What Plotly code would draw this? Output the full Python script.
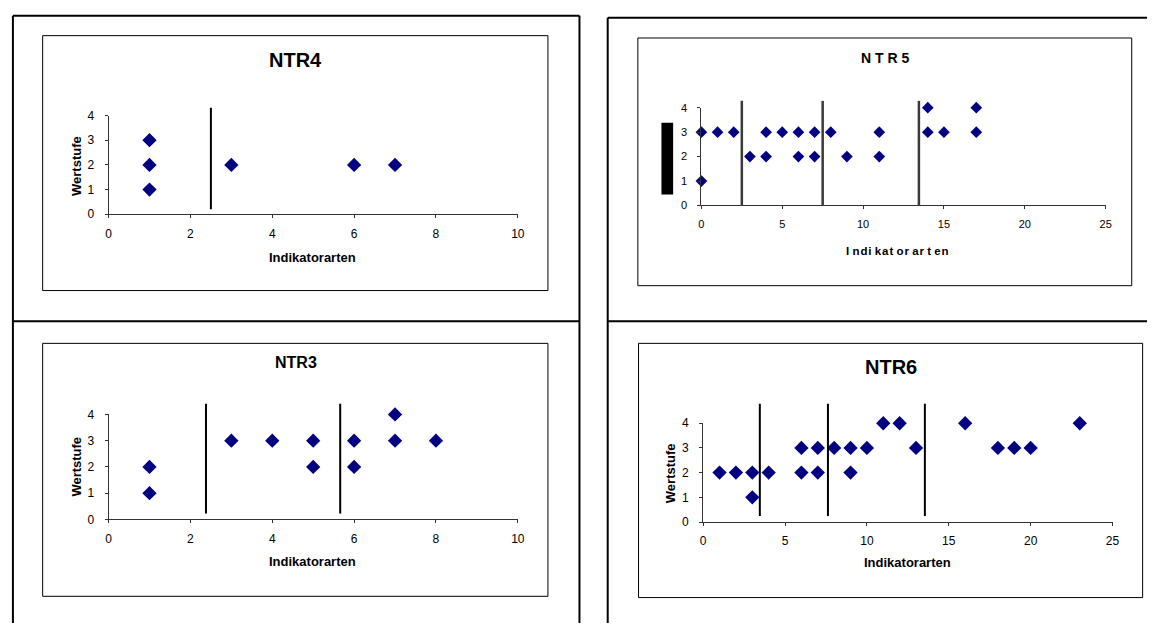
import plotly.graph_objects as go

W, H = 1154, 630

# ---------------- data ----------------
ntr4_x = [1, 1, 1, 3, 6, 7]
ntr4_y = [3, 2, 1, 2, 2, 2]
ntr4_lines = [2.5]

ntr5_x = [0, 0, 1, 2, 3, 4, 4, 5, 6, 6, 7, 7, 8, 9, 11, 11, 14, 14, 15, 17, 17]
ntr5_y = [3, 1, 3, 3, 2, 3, 2, 3, 3, 2, 3, 2, 3, 2, 3, 2, 4, 3, 3, 4, 3]
ntr5_lines = [2.5, 7.5, 13.45]

ntr3_x = [1, 1, 3, 4, 5, 5, 6, 6, 7, 7, 8]
ntr3_y = [2, 1, 3, 3, 3, 2, 3, 2, 4, 3, 3]
ntr3_lines = [2.38, 5.66]

ntr6_x = [1, 2, 3, 3, 4, 6, 6, 7, 7, 8, 9, 9, 10, 11, 12, 13, 16, 18, 19, 20, 23]
ntr6_y = [2, 2, 2, 1, 2, 3, 2, 3, 2, 3, 3, 2, 3, 4, 4, 3, 4, 3, 3, 3, 4]
ntr6_lines = [3.46, 7.62, 13.54]

y_ticks = [0, 1, 2, 3, 4]
x_ticks_10 = [0, 2, 4, 6, 8, 10]
x_ticks_25 = [0, 5, 10, 15, 20, 25]

FONT = "Liberation Sans, Arial, sans-serif"
NAVY = "#000080"
HS = "\u200a"   # hair space (letter tracking)


def px(x):
    return x / W


def py(y):
    return 1 - y / H


# panel definitions: pixel plot area (left, right, top at y=4, bottom at y=0)
panels = [
    dict(name="NTR4", x=ntr4_x, y=ntr4_y, lines=ntr4_lines, line_lo=0.2, line_hi=4.32,
         area=(106.5, 519.3, 111, 212), xt=x_ticks_10, msize=11, tfs=12, lcol="black", lw=2),
    dict(name="NTR5", x=ntr5_x, y=ntr5_y, lines=ntr5_lines, line_lo=0.0, line_hi=4.28,
         area=(704.5, 1112.3, 103, 203), xt=x_ticks_25, msize=9, tfs=11, lcol="#3a3a3a", lw=2.5),
    dict(name="NTR3", x=ntr3_x, y=ntr3_y, lines=ntr3_lines, line_lo=0.22, line_hi=4.41,
         area=(106.5, 519.3, 416.7, 524), xt=x_ticks_10, msize=11, tfs=12, lcol="black", lw=2),
    dict(name="NTR6", x=ntr6_x, y=ntr6_y, lines=ntr6_lines, line_lo=0.24, line_hi=4.79,
         area=(706.3, 1119.2, 425.7, 526.7), xt=x_ticks_25, msize=11, tfs=12, lcol="black", lw=2),
]

fig = go.Figure()
shapes = []
annotations = []
layout = {}

for i, p in enumerate(panels, start=1):
    sfx = "" if i == 1 else str(i)
    xa, ya = "x" + sfx, "y" + sfx
    fig.add_trace(go.Scatter(
        x=p["x"], y=p["y"], mode="markers", xaxis=xa, yaxis=ya,
        marker=dict(symbol="diamond", size=p["msize"], color=NAVY, line=dict(width=0)),
        cliponaxis=False, showlegend=False, hoverinfo="x+y"))
    l, r, t, b = p["area"]
    axis_common = dict(showgrid=False, zeroline=False, showline=True, linecolor="#333333",
                       linewidth=1, ticks="outside", ticklen=3, tickcolor="#333333",
                       tickfont=dict(family=FONT, size=p["tfs"], color="black"),
                       fixedrange=True)
    layout["xaxis" + sfx] = dict(axis_common, domain=[px(l), px(r)], anchor=ya,
                                 range=[p["xt"][0], p["xt"][-1]], tickmode="array",
                                 tickvals=p["xt"], ticklabelstandoff=5)
    layout["yaxis" + sfx] = dict(axis_common, domain=[py(b), py(t)], anchor=xa,
                                 range=[y_ticks[0], y_ticks[-1]], tickmode="array",
                                 tickvals=y_ticks, ticklabelstandoff=8)
    ymax = y_ticks[-1]
    for xv in p["lines"]:
        shapes.append(dict(type="line", xref=xa, yref=ya + " domain", x0=xv, x1=xv,
                           y0=p["line_lo"] / ymax, y1=p["line_hi"] / ymax,
                           line=dict(color=p["lcol"], width=p["lw"])))

# outer frames
frame = dict(color="black", width=2)
for (x0, y0, x1, y1) in [
    (10, 9, 581.5, 9), (10, 9, 10, 630), (581.5, 9, 581.5, 630), (10, 321.5, 581.5, 321.5),
    (610, 11, 1154, 11), (610, 11, 610, 630), (610, 321.5, 1154, 321.5),
]:
    shapes.append(dict(type="line", xref="paper", yref="paper", x0=px(x0), x1=px(x1),
                       y0=py(y0), y1=py(y1), line=frame))

# inner chart boxes
for (x0, y0, x1, y1) in [(40, 29.3, 549.7, 290), (640.4, 31.7, 1138.6, 285),
                         (40, 344, 549.7, 602.7), (641.1, 344, 1149.6, 604)]:
    shapes.append(dict(type="rect", xref="paper", yref="paper", x0=px(x0), x1=px(x1),
                       y0=py(y1), y1=py(y0), line=dict(color="black", width=1),
                       fillcolor="rgba(0,0,0,0)"))

# black block left of NTR5 (rendered y-title)
shapes.append(dict(type="rect", xref="paper", yref="paper", x0=px(664.2), x1=px(676),
                   y0=py(191.7), y1=py(118.3), line=dict(width=0), fillcolor="black"))


def ann(text, x, y, size, angle=0):
    annotations.append(dict(text=text, x=px(x), y=py(y), xref="paper", yref="paper",
                            showarrow=False, xanchor="center", yanchor="middle",
                            textangle=angle,
                            font=dict(family=FONT, size=size, color="black", weight="bold")))


def tracked(word_groups):
    return " ".join(HS.join(list(w)) for w in word_groups)


# titles
ann("NTR4", 295.4, 53.7, 20)
ann("N T R 5", 889.3, 51.7, 14)
ann("NTR3", 295.4, 363.8, 16)
ann("NTR6", 895.9, 368.3, 20)
# x titles
ann("Indikatorarten", 312.6, 255.7, 13)
ann(tracked(["I", "ndi", "kat", "or", "ar", "t", "en"]), 902.1, 250, 11.5)
ann("Indikatorarten", 312.6, 567.3, 13)
ann("Indikatorarten", 912.8, 568.3, 13)
# y titles
ann("Wertstufe", 74, 162.2, 13, -90)
ann("Wertstufe", 74, 469.7, 13, -90)
ann("Wertstufe", 673.3, 476.3, 13, -90)

fig.update_layout(
    width=W, height=H, autosize=False,
    margin=dict(l=0, r=0, t=0, b=0),
    paper_bgcolor="white", plot_bgcolor="white",
    shapes=shapes, annotations=annotations, **layout)

post = (
    "document.documentElement.style.margin='0';"
    "document.documentElement.style.overflow='hidden';"
    "document.body.style.margin='0';"
    "document.body.style.overflow='hidden';"
    "var gd=document.querySelector('.plotly-graph-div');"
    "if(gd){gd.style.position='fixed';gd.style.left='0px';gd.style.top='0px';}"
)
fig.write_html("out.html", config={"displayModeBar": False, "responsive": False},
               post_script=post)
